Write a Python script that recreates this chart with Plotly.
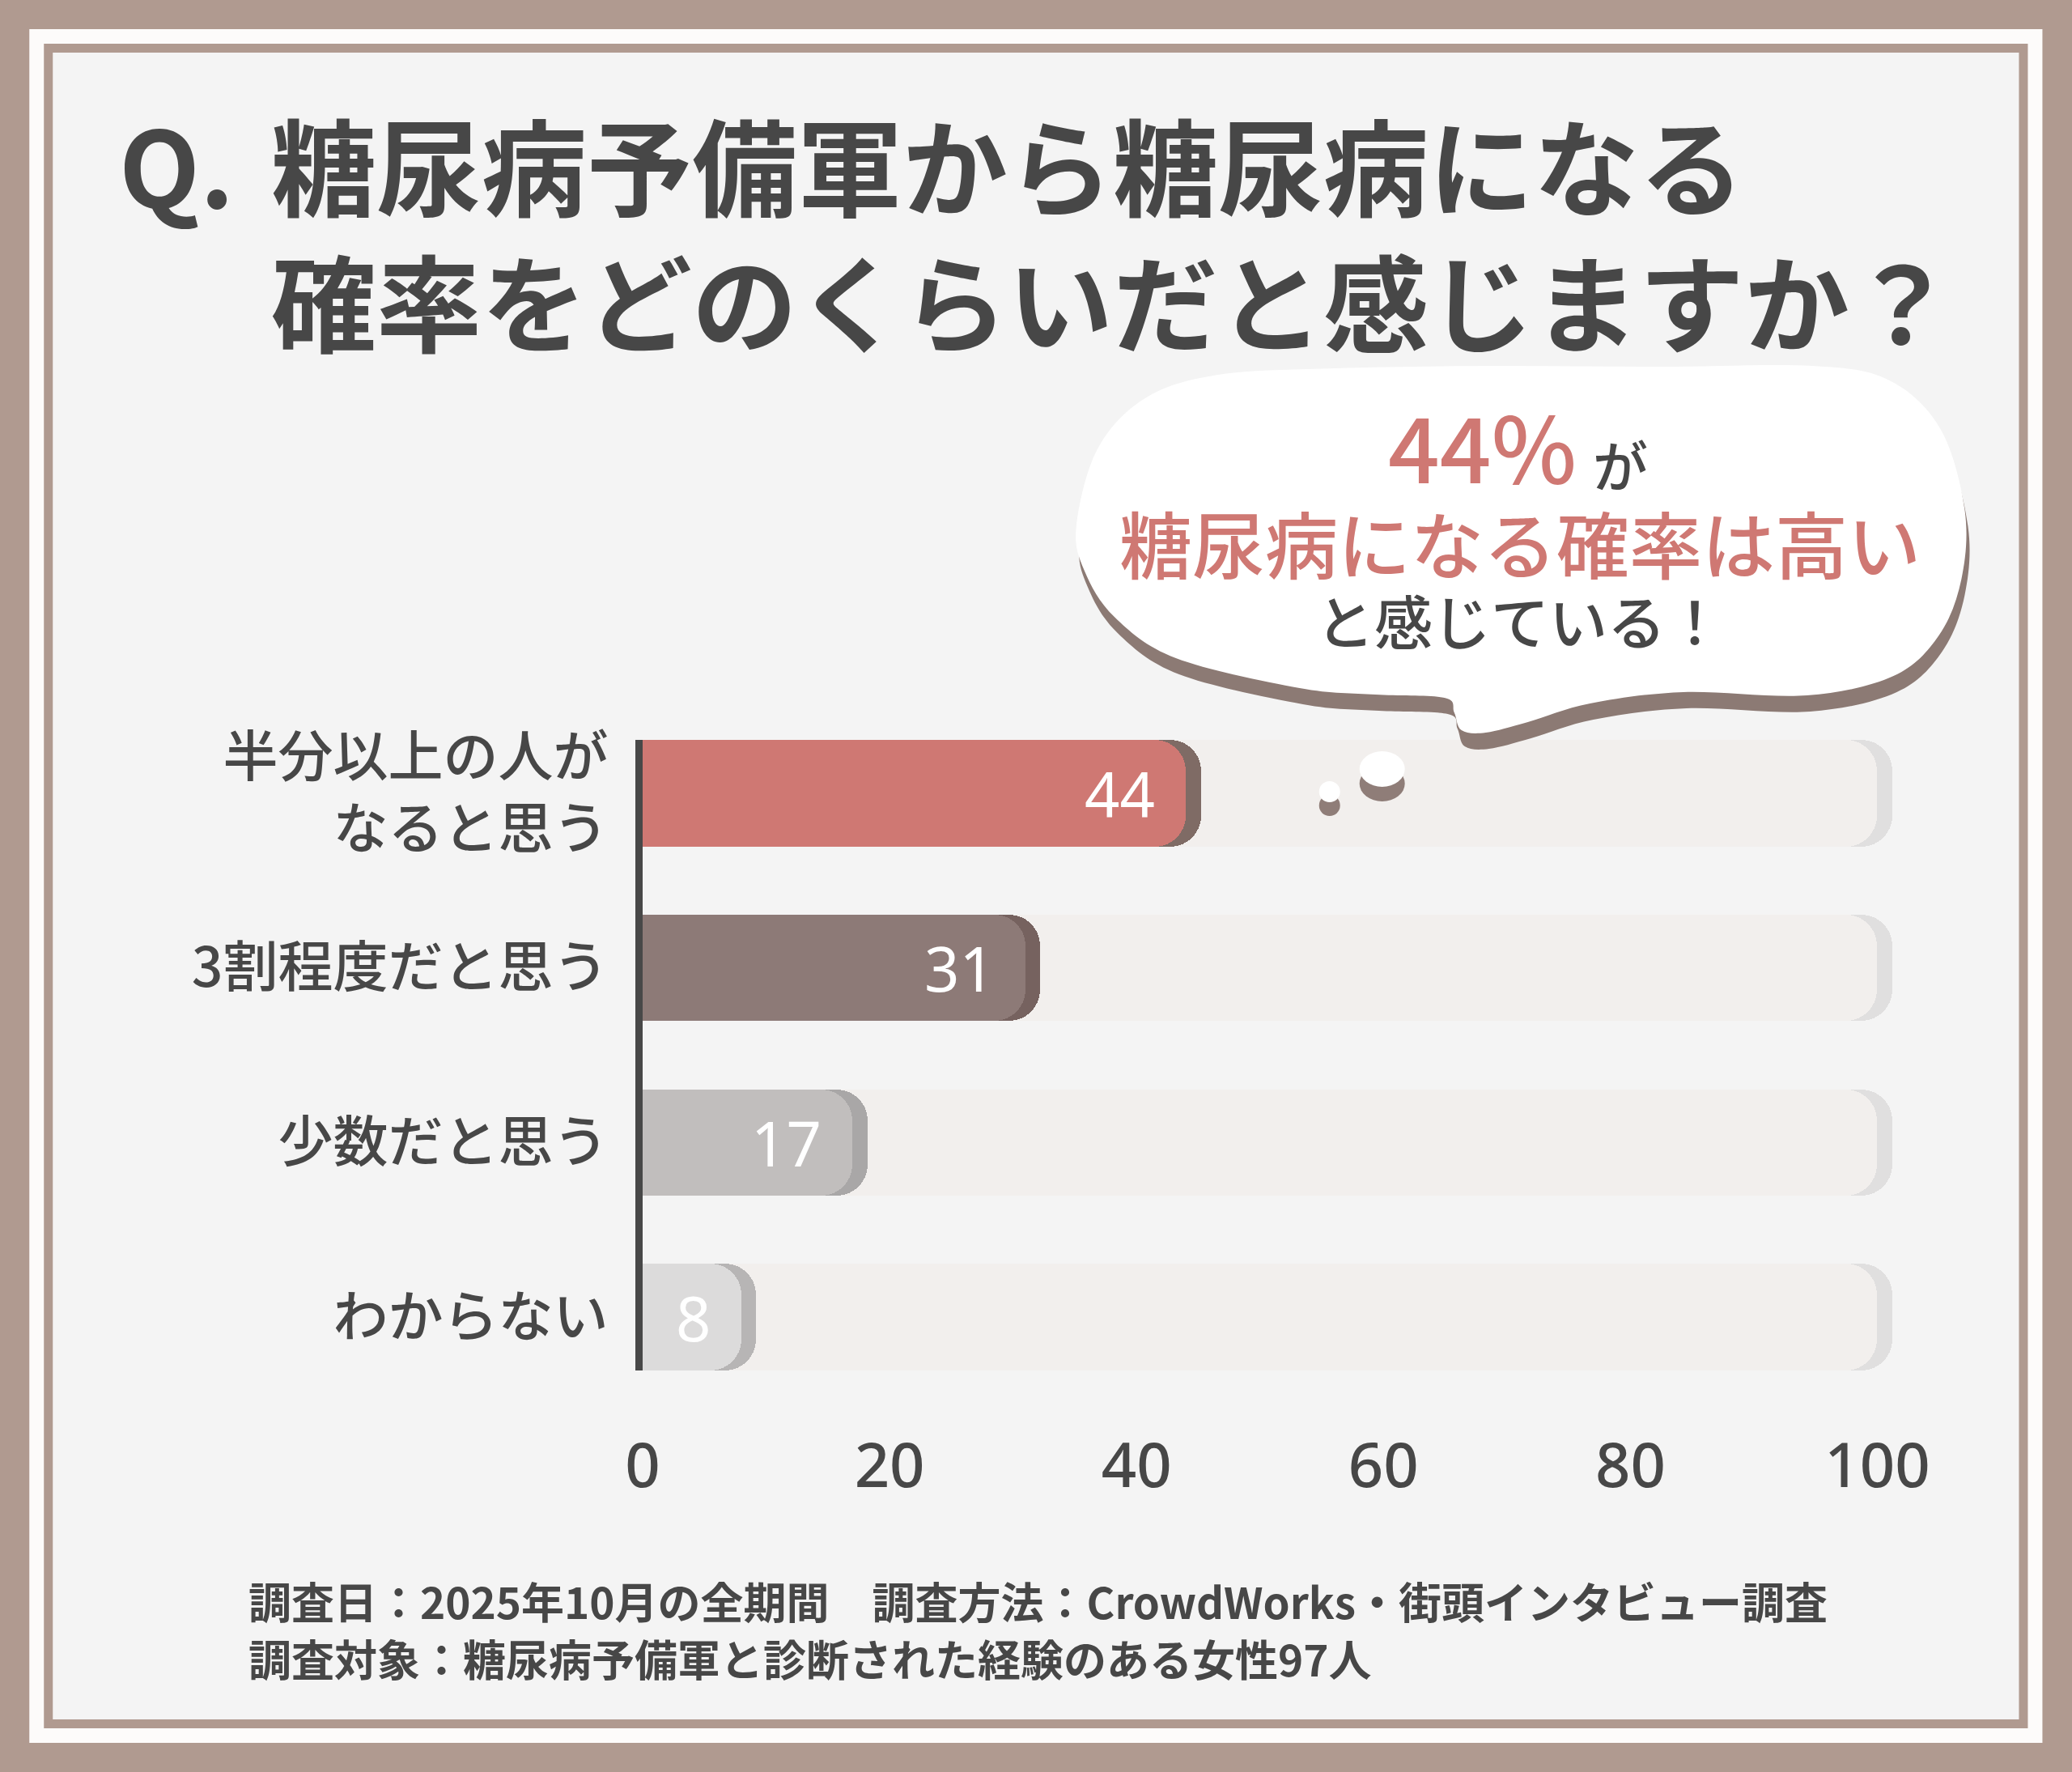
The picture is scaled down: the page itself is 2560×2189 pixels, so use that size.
import plotly.graph_objects as go

# ---------------- data ----------------
categories = ["半分以上の人が<br>なると思う", "3割程度だと思う", "少数だと思う", "わからない"]
values = [44, 31, 17, 8]
track_max = [100, 100, 100, 100]
x_ticks = [0, 20, 40, 60, 80, 100]

title_q = "Q."
title_line1 = "糖尿病予備軍から糖尿病になる"
title_line2 = "確率をどのくらいだと感じますか？"
bubble_pct = "44%"
bubble_ga = "が"
bubble_line2 = "糖尿病になる確率は高い"
bubble_line3 = "と感じている！"
note_line1 = "調査日：2025年10月の全期間　調査方法：CrowdWorks・街頭インタビュー調査"
note_line2 = "調査対象：糖尿病予備軍と診断された経験のある女性97人"

# ---------------- styles ----------------
fill_colors = ["#cf7873", "#8d7a77", "#c1bebd", "#dcdbdb"]
rim_colors = ["#7f6b65", "#76625f", "#a9a7a7", "#b7b5b5"]
track_fill = "#f2efed"
track_rim = "#e0dfdf"
RIM = 1.2          # rim thickness in axis units (style)
RADIUS = 38
TEXT = "#474747"
PINK = "#cf7873"
BROWN = "#b09a90"

W, H = 2560, 2189
ML, MT = 794, 914
PW, PH = 1556.5, 779
MR = W - ML - PW
MB = H - MT - PH


def px2x(px):
    return (px - ML) / PW


def px2y(py):
    return (MT + PH - py) / PH


fig = go.Figure()

# each layer on its own overlaid y axis so every bar end gets rounded
layers = [
    ("y", [v + RIM for v in track_max], track_rim, "skip"),
    ("y2", track_max, track_fill, "skip"),
    ("y3", [v + RIM for v in values], rim_colors, "skip"),
    ("y4", values, fill_colors, None),
]
for yid, xv, col, hov in layers:
    fig.add_trace(go.Bar(y=categories, x=xv, orientation="h", yaxis=yid, xaxis="x",
                         marker=dict(color=col, cornerradius=RADIUS, line_width=0),
                         width=0.61, showlegend=False, hoverinfo=hov))

annotations = []
# value labels
for c, v in zip(categories, values):
    annotations.append(dict(x=v, y=c, xref="x", yref="y", text=str(v), showarrow=False,
                            xanchor="right", yanchor="middle", xshift=-36,
                            font=dict(family="Noto Sans, Roboto, sans-serif", size=76, color="white")))

# title
title_font = dict(family="Noto Sans CJK JP", size=130, color=TEXT, weight="bold")
annotations.append(dict(x=px2x(145), y=px2y(200), xref="paper", yref="paper", text=title_q,
                        showarrow=False, xanchor="left", yanchor="middle", font=title_font))
annotations.append(dict(x=px2x(333), y=px2y(200), xref="paper", yref="paper", text=title_line1,
                        showarrow=False, xanchor="left", yanchor="middle", font=title_font))
annotations.append(dict(x=px2x(333), y=px2y(368), xref="paper", yref="paper", text=title_line2,
                        showarrow=False, xanchor="left", yanchor="middle", font=title_font))

# bubble text
annotations.append(dict(x=px2x(1950), y=px2y(548), xref="paper", yref="paper", text=bubble_pct,
                        showarrow=False, xanchor="right", yanchor="middle",
                        font=dict(family="Noto Sans CJK JP", size=112, color=PINK, weight=500)))
annotations.append(dict(x=px2x(1966), y=px2y(572), xref="paper", yref="paper", text=bubble_ga,
                        showarrow=False, xanchor="left", yanchor="middle",
                        font=dict(family="Noto Sans CJK JP", size=68, color=TEXT, weight=500)))
annotations.append(dict(x=px2x(1878), y=px2y(669), xref="paper", yref="paper", text=bubble_line2,
                        showarrow=False, xanchor="center", yanchor="middle",
                        font=dict(family="Noto Sans CJK JP", size=90, color=PINK, weight=500)))
annotations.append(dict(x=px2x(1878), y=px2y(764), xref="paper", yref="paper", text=bubble_line3,
                        showarrow=False, xanchor="center", yanchor="middle",
                        font=dict(family="Noto Sans CJK JP", size=72, color=TEXT, weight=500)))

# footnotes
note_font = dict(family="Noto Sans CJK JP", size=53, color=TEXT, weight="bold")
annotations.append(dict(x=px2x(305), y=px2y(1977), xref="paper", yref="paper", text=note_line1,
                        showarrow=False, xanchor="left", yanchor="middle", font=note_font))
annotations.append(dict(x=px2x(305), y=px2y(2048), xref="paper", yref="paper", text=note_line2,
                        showarrow=False, xanchor="left", yanchor="middle", font=note_font))

shapes = []


def rect(x0, y0, x1, y1, color, layer="below"):
    return dict(type="rect", xref="paper", yref="paper", x0=px2x(x0), x1=px2x(x1),
                y0=px2y(y1), y1=px2y(y0), fillcolor=color, line_width=0, layer=layer)


# frame
shapes.append(rect(36, 36, W - 36, H - 36, "#fdfbfa"))
shapes.append(rect(54, 54, W - 54, H - 54, BROWN))
shapes.append(rect(65, 65, W - 65, H - 65, "#f4f4f4"))


def smooth_path(pts, dx=0, dy=0):
    n = len(pts)
    P = [(x + dx, y + dy) for x, y in pts]
    s = "M {:.5f},{:.5f}".format(px2x(P[0][0]), px2y(P[0][1]))
    for i in range(n):
        p0 = P[(i - 1) % n]
        p1 = P[i]
        p2 = P[(i + 1) % n]
        p3 = P[(i + 2) % n]
        c1 = (p1[0] + (p2[0] - p0[0]) / 6, p1[1] + (p2[1] - p0[1]) / 6)
        c2 = (p2[0] - (p3[0] - p1[0]) / 6, p2[1] - (p3[1] - p1[1]) / 6)
        s += " C {:.5f},{:.5f} {:.5f},{:.5f} {:.5f},{:.5f}".format(
            px2x(c1[0]), px2y(c1[1]), px2x(c2[0]), px2y(c2[1]), px2x(p2[0]), px2y(p2[1]))
    return s + " Z"


cloud = [(1330, 650), (1356, 555), (1415, 492), (1505, 463), (1650, 455), (1850, 452),
         (2050, 453), (2240, 452), (2335, 470), (2398, 530), (2428, 630), (2424, 715),
         (2396, 785), (2340, 835), (2233, 859), (2080, 855), (1965, 869), (1888, 892),
         (1836, 905), (1806, 902), (1797, 880), (1785, 862), (1700, 858), (1606, 850),
         (1453, 813), (1377, 762), (1340, 705)]
shapes.append(dict(type="path", xref="paper", yref="paper", path=smooth_path(cloud, 4, 20),
                   fillcolor="#8c7a74", line_width=0, layer="above"))
shapes.append(dict(type="path", xref="paper", yref="paper", path=smooth_path(cloud),
                   fillcolor="#ffffff", line_width=0, layer="above"))


def ellipse(cx, cy, rx, ry, color):
    return dict(type="circle", xref="paper", yref="paper", x0=px2x(cx - rx), x1=px2x(cx + rx),
                y0=px2y(cy + ry), y1=px2y(cy - ry), fillcolor=color, line_width=0, layer="above")


shapes.append(ellipse(1708, 968, 28, 22, "#8f7d78"))
shapes.append(ellipse(1708, 950, 28, 22, "#ffffff"))
shapes.append(ellipse(1643, 995, 13, 13, "#8f7d78"))
shapes.append(ellipse(1643, 978, 13, 13, "#ffffff"))

yrange = [3.305, -0.305]
hidden_y = dict(type="category", categoryarray=categories, range=yrange, overlaying="y",
                visible=False, fixedrange=True)

fig.update_layout(
    width=W, height=H,
    margin=dict(l=ML, r=MR, t=MT, b=MB, autoexpand=False),
    paper_bgcolor=BROWN, plot_bgcolor="rgba(0,0,0,0)",
    barmode="overlay", bargap=0,
    showlegend=False,
    annotations=annotations, shapes=shapes,
    xaxis=dict(range=[0, 102], tickvals=x_ticks, ticktext=[str(t) for t in x_ticks],
               showgrid=False, zeroline=False, showline=False,
               ticks="outside", ticklen=52, tickcolor="rgba(0,0,0,0)",
               tickfont=dict(family="Noto Sans, sans-serif", size=76, color=TEXT, weight=500)),
    yaxis=dict(type="category", categoryarray=categories, range=yrange,
               showgrid=False, zeroline=False, showline=True, linecolor="#484848", linewidth=9,
               ticks="outside", ticklen=20, tickcolor="rgba(0,0,0,0)",
               tickfont=dict(family="Noto Sans CJK JP", size=68, color=TEXT, weight=500)),
    yaxis2=hidden_y, yaxis3=hidden_y, yaxis4=hidden_y,
)

fig.write_html("out.html")
